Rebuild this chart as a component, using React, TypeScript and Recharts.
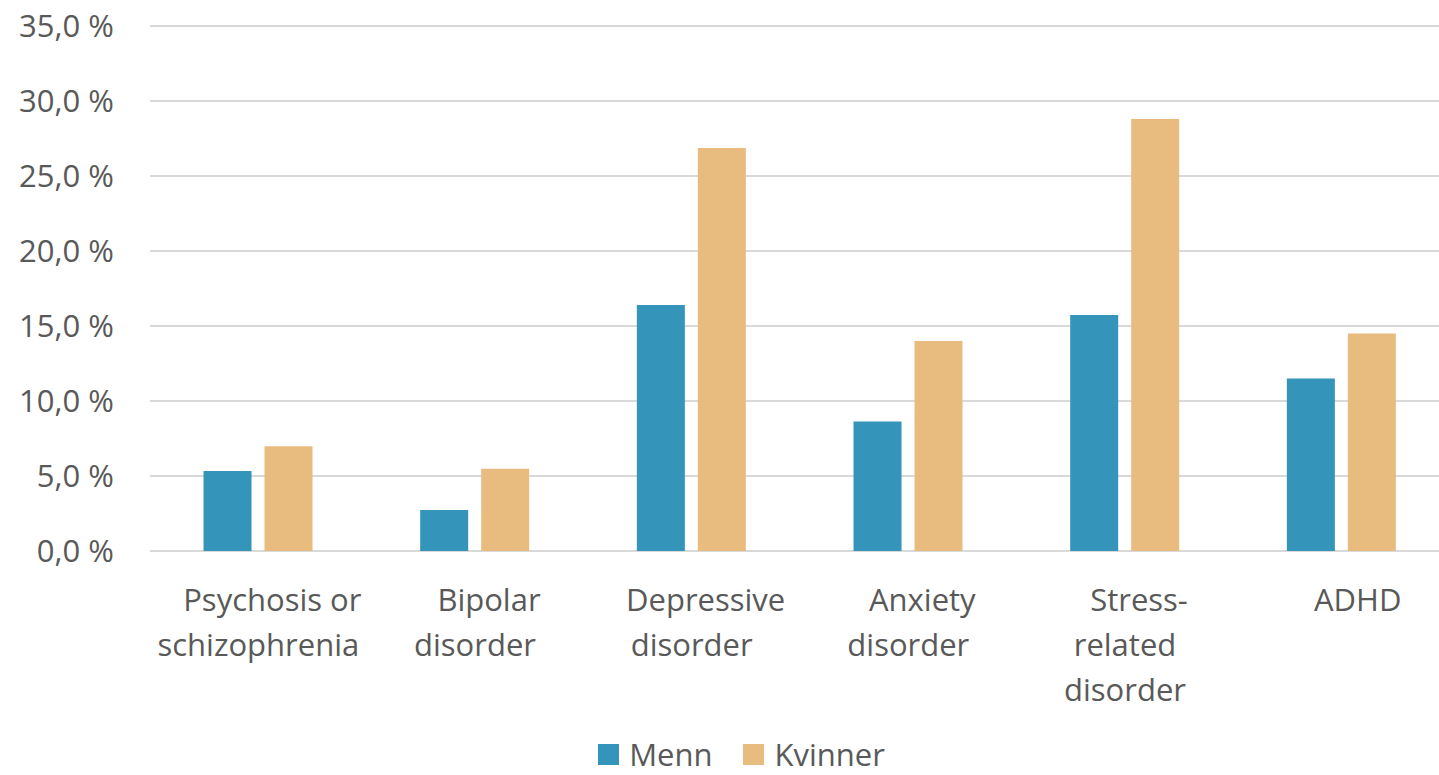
import { Bar, BarChart, CartesianGrid, Legend, XAxis, YAxis } from "recharts";

const categories = [
  "Psychosis or\nschizophrenia",
  "Bipolar\ndisorder",
  "Depressive\ndisorder",
  "Anxiety\ndisorder",
  "Stress-\nrelated\ndisorder",
  "ADHD",
];
const menn = [5.33, 2.73, 16.4, 8.63, 15.73, 11.5];
const kvinner = [6.98, 5.49, 26.87, 14.0, 28.8, 14.5];
const yTicks = [0, 5, 10, 15, 20, 25, 30, 35];

const data = categories.map((name, i) => ({ name, Menn: menn[i], Kvinner: kvinner[i] }));

const FONT = "'Open Sans', sans-serif";
const TEXT = "#595959";
const BLUE = "#3494ba";
const TAN = "#e8bc7e";

const series = [
  { key: "Menn", color: BLUE },
  { key: "Kvinner", color: TAN },
];

const fmt = (v: number) => v.toFixed(1).replace(".", ",") + " %";

function CategoryTick(props: any) {
  const { x, y, payload } = props;
  const lines = String(payload.value).split("\n");
  return (
    <text x={x} y={y + 60} textAnchor="middle" fill={TEXT} fontSize={31} fontFamily={FONT}>
      {lines.map((l, i) => (
        <tspan key={i} x={i === 0 && lines.length > 1 ? x + 14 : i === 0 ? x + 16 : x} dy={i === 0 ? 0 : 45}>
          {l}
        </tspan>
      ))}
    </text>
  );
}

function LegendBox() {
  return (
    <div
      style={{
        display: "flex",
        justifyContent: "center",
        alignItems: "flex-start",
        height: 50,
        boxSizing: "border-box",
        paddingTop: 8,
        paddingLeft: 64,
        fontFamily: FONT,
      }}
    >
      {series.map((s) => (
        <div key={s.key} style={{ display: "flex", alignItems: "center", marginRight: 31 }}>
          <div style={{ width: 21, height: 21, background: s.color, marginRight: 10 }} />
          <span style={{ fontSize: 31, color: TEXT, lineHeight: "42px" }}>{s.key}</span>
        </div>
      ))}
    </div>
  );
}

export default function App() {
  return (
    <div
      style={{
        position: "absolute",
        left: 0,
        top: 0,
        width: 1439,
        height: 775,
        overflow: "hidden",
        background: "#fff",
      }}
    >
      <BarChart
        width={1450}
        height={775}
        data={data}
        margin={{ top: 26, right: 0, bottom: 0, left: 0 }}
        barCategoryGap="24.7%"
        barGap={13}
      >
        <CartesianGrid vertical={false} stroke="#d9d9d9" strokeWidth={2} />
        <XAxis
          dataKey="name"
          axisLine={false}
          tickLine={false}
          tickSize={0}
          tickMargin={0}
          height={174}
          interval={0}
          tick={<CategoryTick />}
        />
        <YAxis
          domain={[0, 35]}
          ticks={yTicks}
          tickFormatter={fmt}
          axisLine={false}
          tickLine={false}
          tickSize={0}
          tickMargin={36}
          width={150}
          tick={{ fill: TEXT, fontSize: 31, fontFamily: FONT }}
        />
        <Legend verticalAlign="bottom" content={<LegendBox />} />
        <Bar dataKey="Menn" fill={BLUE} isAnimationActive={false} />
        <Bar dataKey="Kvinner" fill={TAN} isAnimationActive={false} />
      </BarChart>
    </div>
  );
}
